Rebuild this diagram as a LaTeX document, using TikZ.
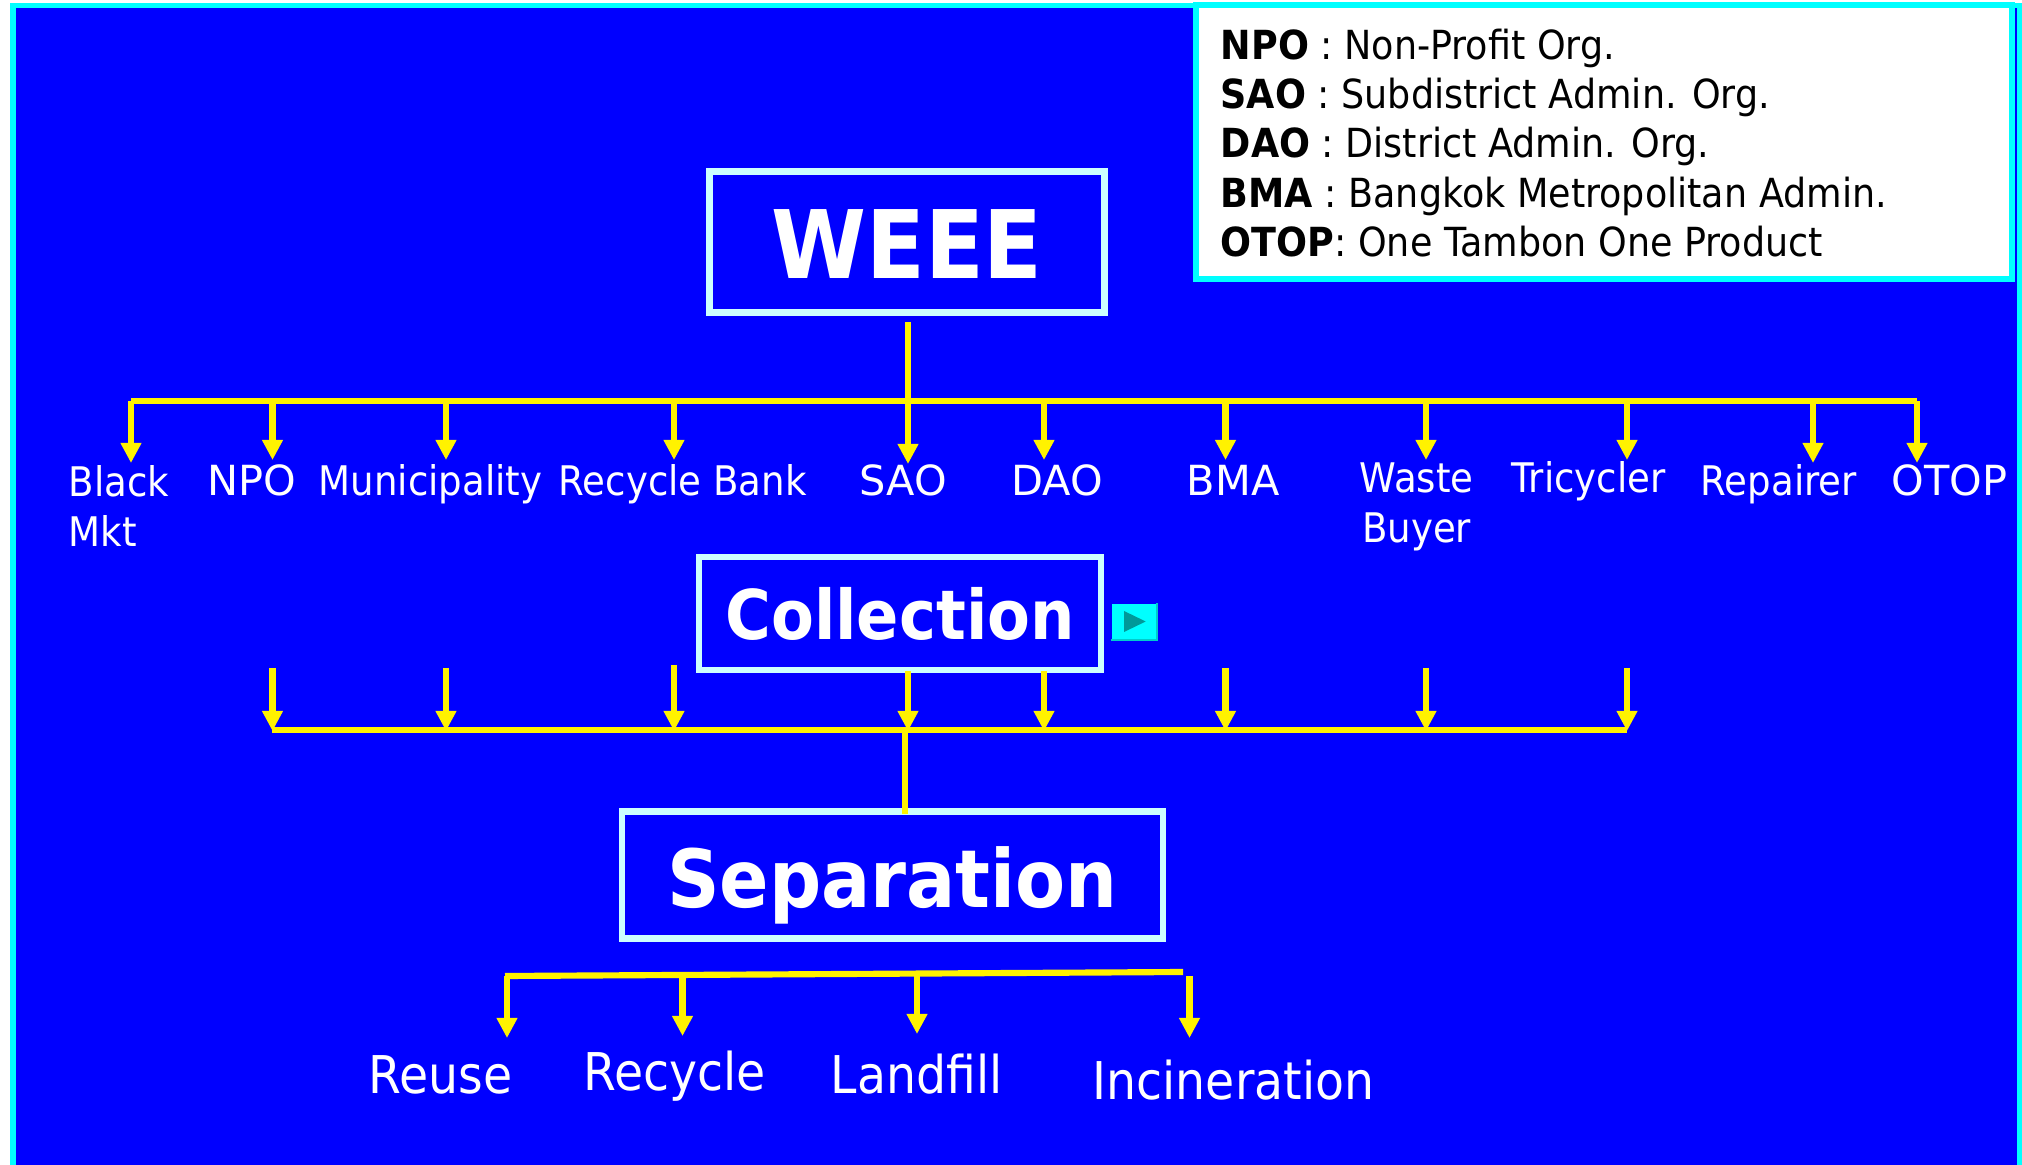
\documentclass[tikz,border=0pt]{standalone}
\usepackage{fontspec}
\setmainfont[FakeStretch=0.91]{DejaVu Sans}
\newfontfamily\capsfont{DejaVu Sans}
\usetikzlibrary{arrows.meta}
\definecolor{bgblue}{RGB}{0,0,255}
\definecolor{rimcyan}{RGB}{0,255,255}
\definecolor{boxcyan}{RGB}{204,255,255}
\definecolor{btnteal}{RGB}{0,153,153}
\definecolor{btnedge}{RGB}{0,204,204}
\tikzset{
  bigbox/.style={draw=boxcyan, line width=1.85pt, text=white, inner sep=0pt},
  lbl/.style={text=white, font=\fontsize{11.6pt}{14.3pt}\selectfont, align=left, inner sep=0pt, anchor=base west},
  capslbl/.style={lbl, font=\capsfont\fontsize{11.8pt}{14.3pt}\selectfont},
  twolbl/.style={lbl, anchor=west},
  endlbl/.style={text=white, font=\fontsize{14.8pt}{17pt}\selectfont, inner sep=0pt, anchor=base west},
  bus/.style={yellow, line width=1.75pt},
  flow/.style={yellow, line width=1.75pt, -{Triangle[length=5.7pt,width=5.6pt]}}
}
\begin{document}
\begin{tikzpicture}[x=0.01cm, y=-0.01cm]
\useasboundingbox (0,0) rectangle (2022,1165);
\fill[white] (0,0) rectangle (2022,1165);
\fill[rimcyan] (10,3) rectangle (2022,1165);
\fill[bgblue] (16,8) rectangle (2017,1165);

% key box
\node[draw=rimcyan, fill=white, line width=1.6pt, minimum width=8.16cm, minimum height=2.74cm, inner sep=0pt] (key) at (1604,142) {};
\node[anchor=west, inner sep=0pt, align=left, font=\fontsize{11.4pt}{14pt}\selectfont] (keytext) at (1220,143) {%
\textbf{NPO} : Non-Profit Org.\\
\textbf{SAO} : Subdistrict Admin. Org.\\
\textbf{DAO} : District Admin. Org.\\
\textbf{BMA} : Bangkok Metropolitan Admin.\\
\textbf{OTOP}: One Tambon One Product};

% the three boxes
\node[bigbox, minimum width=3.95cm, minimum height=1.41cm, font=\bfseries\fontsize{26.9pt}{30pt}\selectfont] (weee) at (907,242) {\raisebox{0pt}[20.8pt][0pt]{WEEE}};
\node[bigbox, minimum width=4.02cm, minimum height=1.13cm, font=\bfseries\fontsize{19.5pt}{24pt}\selectfont] (collect) at (900,613.5) {Collection};
\node[bigbox, minimum width=5.405cm, minimum height=1.27cm, font=\bfseries\fontsize{22.8pt}{26pt}\selectfont] (sep) at (892.5,875) {\raisebox{0pt}[18.2pt][0pt]{Separation}};

% small button
\node[fill=rimcyan, minimum width=.45cm, minimum height=.35cm, inner sep=0pt] (btn) at (1134,621.5) {};
\draw[btnedge, line width=.5pt] (btn.south west) -- (btn.south east) -- (btn.north east);
\fill[btnteal] (1124,611) -- (1145.7,621.5) -- (1124,632) -- cycle;

% top row
\coordinate (tl) at (131,401);
\coordinate (tr) at (1917,401);
\coordinate (wout) at (908,322);
\draw[bus] (wout) -- (908,401);
\draw[bus] (tl) -- (tr);
\foreach \x/\yy/\nm in {131/463/a, 272.5/460/b, 446/460/c, 674/460/d, 908/464/e, 1044/460/f, 1225.5/460/g, 1426/460/h, 1627/460/i, 1813/463/j, 1917/463/k} {
  \coordinate (top\nm) at (\x,401);
  \coordinate (tip\nm) at (\x,\yy);
  \draw[flow] (top\nm) -- (tip\nm);
};
\node[twolbl] (blackmkt) at (68,506) {Black\\Mkt};
\node[capslbl] (npo) at (207,496) {NPO};
\node[lbl] (muni) at (318,496) {Municipality};
\node[lbl] (bank) at (558,496) {Recycle Bank};
\node[capslbl] (sao) at (859,496) {SAO};
\node[capslbl] (dao) at (1011,496) {DAO};
\node[capslbl] (bma) at (1186,496) {BMA};
\node[twolbl, align=center] (buyer) at (1359,507) {Waste\\Buyer};
\node[lbl] (tricycler) at (1511,493) {Tricycler};
\node[lbl] (repairer) at (1700,496) {Repairer};
\node[capslbl] (otop) at (1891,496) {OTOP};

% middle row
\coordinate (ml) at (272,730);
\coordinate (mr) at (1627,730);
\draw[bus] (ml) -- (mr);
\foreach \x/\yy/\nm in {272.5/668/b, 446/668/c, 674/665/d, 908/671/e, 1044/671/f, 1225.5/668/g, 1426/668/h, 1627/668/i} {
  \coordinate (mtop\nm) at (\x,\yy);
  \coordinate (mtip\nm) at (\x,731);
  \draw[flow] (mtop\nm) -- (mtip\nm);
};
\coordinate (mmid) at (905,730);
\coordinate (mend) at (905,814);
\draw[bus] (mmid) -- (mend);

% bottom row
\coordinate (bl) at (505,976);
\coordinate (br) at (1183,972);
\draw[bus] (bl) -- (br);
\foreach \x/\ya/\yb/\nm in {507/976/1038/a, 682.5/975/1036/b, 917/974/1034/c, 1189.5/976/1038/d} {
  \coordinate (btop\nm) at (\x,\ya);
  \coordinate (btip\nm) at (\x,\yb);
  \draw[flow] (btop\nm) -- (btip\nm);
};
\node[endlbl] (reuse) at (368,1093) {Reuse};
\node[endlbl] (recycle) at (583,1090) {Recycle};
\node[endlbl] (landfill) at (830,1093) {Landfill};
\node[endlbl] (incin) at (1092,1099) {Incineration};
\end{tikzpicture}
\end{document}
